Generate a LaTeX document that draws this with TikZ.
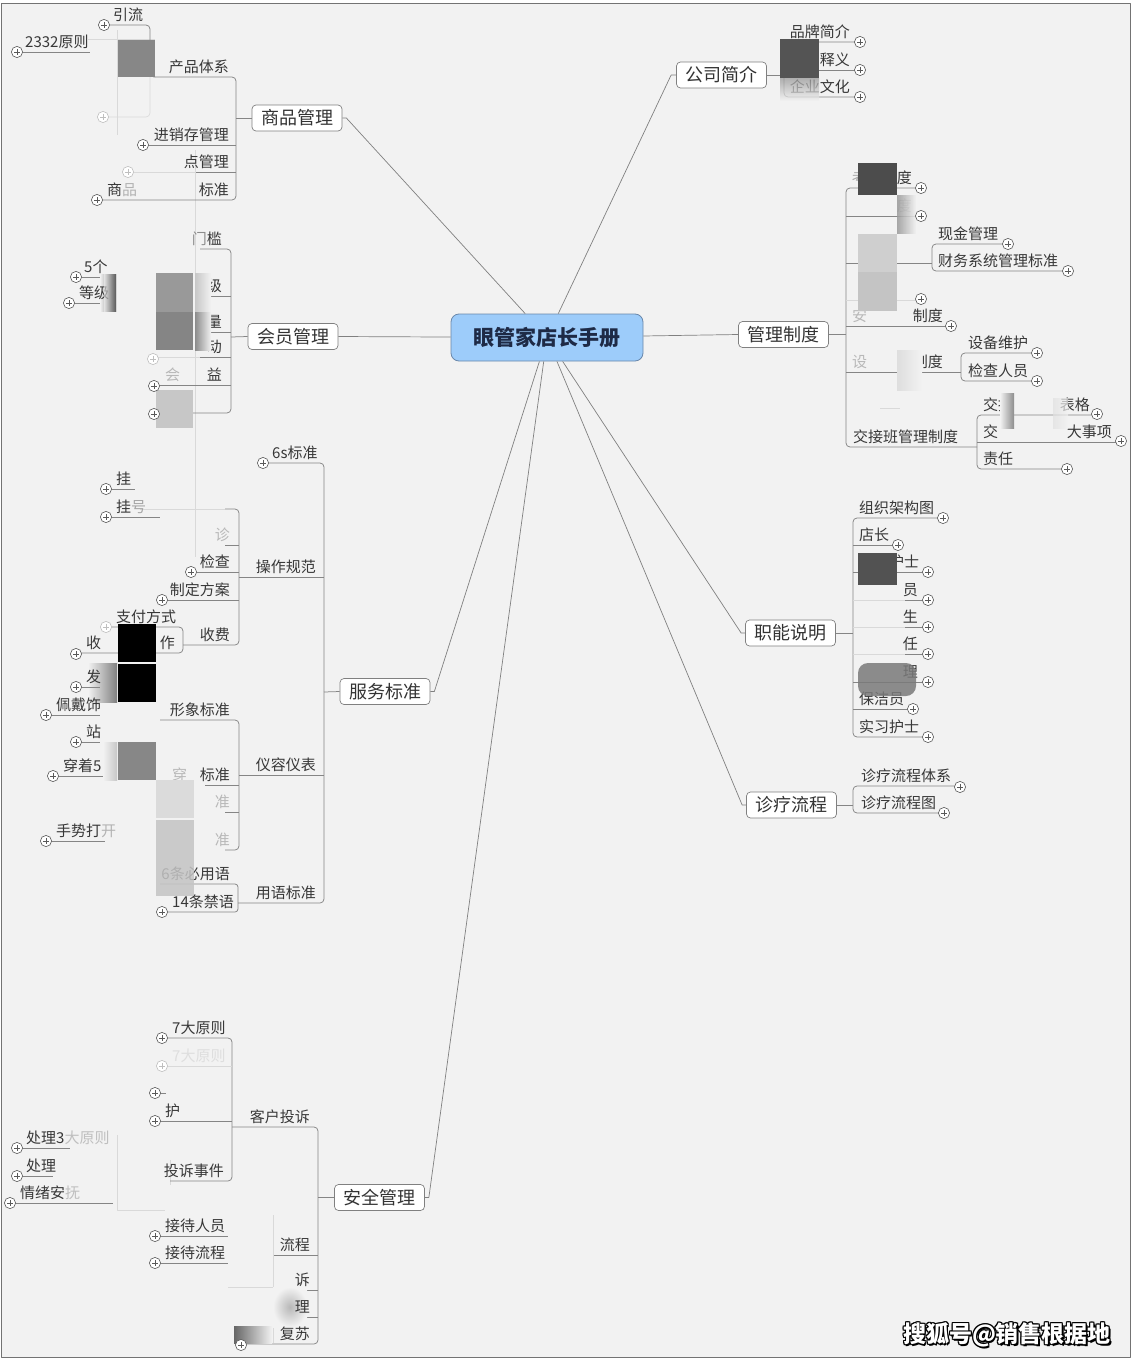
\documentclass[tikz,border=0pt]{standalone}
\usepackage{fontspec}
\setmainfont{Noto Sans CJK SC}
\definecolor{bg}{RGB}{242,242,242}
\definecolor{cfill}{RGB}{157,204,250}
\definecolor{cdraw}{RGB}{105,135,170}
\definecolor{ctext}{RGB}{30,42,70}
\tikzset{
 st/.style={inner sep=0pt, font=\fontsize{15}{18}\selectfont, text=black!78},
 fa/.style={st, text=black!28},
 topic/.style={draw=black!50, fill=white, rounded corners=4pt, minimum width=90pt, minimum height=26pt, inner sep=0pt, font=\fontsize{18}{21}\selectfont, text=black!80, line width=0.7pt},
 central/.style={draw=cdraw, fill=cfill, rounded corners=8pt, minimum width=192pt, minimum height=47pt, inner sep=0pt, font=\fontsize{21}{25}\selectfont\bfseries, text=ctext, line width=0.8pt},
 ln/.style={draw=black!48, line width=0.75pt},
 fl/.style={draw=black!15, line width=0.6pt},
 cl/.style={draw=black!50, line width=0.7pt},
 pc/.style={draw=black!65},
 pf/.style={draw=black!25},
 wmk/.style={inner sep=0pt, font=\fontsize{23}{26}\selectfont\bfseries},
}
\newcommand\txl[5][st]{\node[#1,anchor=base east] (#2) at (#3,#4-4.5) {#5};}
\newcommand\txr[5][st]{\node[#1,anchor=base west] (#2) at (#3,#4-4.5) {#5};}
\newcommand\plusat[2][pc]{\draw[#1,fill=white,line width=0.6pt] (#2) circle[radius=5.6pt]; \draw[#1,line width=0.9pt] (#2) ++(-3.2,0) -- ++(6.4,0) (#2) ++(0,-3.2) -- ++(0,6.4);}
\begin{document}
\begin{tikzpicture}[x=1pt,y=-1pt,line join=round]
\useasboundingbox (0,0) rectangle (1132,1360);
\fill[white] (0,0) rectangle (1132,1360);
\draw[black!55, fill=bg] (1,3.5) rectangle (1130,1357);

% faint whitewash boundaries
\draw[fl] (117,30) -- (117,135); \draw[fl] (88,39) -- (155,39); \draw[fl] (195,150) -- (195,557);
\draw[fl] (117,1135) -- (117,1210) -- (165,1210); \draw[fl] (170,1160) -- (170,1185);
\draw[fl] (273,1215) -- (273,1343); \draw[fl] (228,1287) -- (273,1287);
\draw[fl] (880,408) -- (900,408);

% main nodes
\node[central] (c) at (547,337.5) {眼管家店长手册};
\node[topic] (sp) at (297,118) {商品管理};
\node[topic] (hy) at (293,336.5) {会员管理};
\node[topic] (fw) at (385,691.5) {服务标准};
\node[topic] (aq) at (379.5,1197.5) {安全管理};
\node[topic] (gs) at (721.5,75) {公司简介};
\node[topic] (gl) at (783.5,334.5) {管理制度};
\node[topic] (zn) at (790.5,633) {职能说明};
\node[topic] (zl) at (791.5,805) {诊疗流程};

\draw[cl] (c) -- ([xshift=4pt]sp.east) -- (sp.east);
\draw[cl] (c) -- (hy.east);
\draw[cl] (c) -- ([xshift=4pt]fw.east) -- (fw.east);
\draw[cl] (c) -- ([xshift=4pt]aq.east) -- (aq.east);
\draw[cl] (c) -- ([xshift=-5pt]gs.west) -- (gs.west);
\draw[cl] (c) -- (gl.west);
\draw[cl] (c) -- ([xshift=-4pt]zn.west) -- (zn.west);
\draw[cl] (c) -- ([xshift=-4pt]zl.west) -- (zl.west);

% ===== 商品管理
\draw[ln, rounded corners=4pt] (155,77) -- (236,77) -- (236,200) -- (102,200);
\draw[ln] (236,118) -- (sp.west);
\draw[ln] (148,145) -- (236,145);
\draw[ln] (196,172) -- (236,172);
\draw[fl] (133,172) -- (196,172);
\draw[ln, rounded corners=4pt] (109,25) -- (150,25) -- (150,77) -- (155,77);
\draw[fl, rounded corners=4pt] (150,77) -- (150,117) -- (108,117);
\draw[ln] (22,52) -- (90,52);
\txr{t1}{113}{25}{引流}
\txr{t2}{25}{52}{2332原则}
\txl{t3}{229}{77}{产品体系}
\txl{t4}{229}{145}{进销存管理}
\txl{t5}{229}{172}{点管理}
\txl{t6}{229}{200}{标准}
\txr{t7}{107}{200}{商\textcolor{black!30}{品}}
\fill[black!47] (118,40) rectangle (155,77);

% ===== 会员管理
\draw[ln, rounded corners=4pt] (200,249) -- (231,249) -- (231,413) -- (159,413);
\draw[ln] (231,337) -- (hy.west);
\draw[ln] (195,296) -- (231,296);
\draw[ln] (195,332) -- (231,332);
\draw[ln] (200,357) -- (231,357); \draw[fl] (158,357) -- (200,357);
\draw[ln] (159,385) -- (231,385);
\draw[ln] (81,277) -- (116,277); \draw[ln] (74,303) -- (116,303);
\shade[left color=bg, right color=black!65] (100,274) rectangle (116,311);
\txl{h1}{222}{249}{\textcolor{black!45}{门}槛}
\txl{h2}{222}{296}{级}
\txl{h3}{222}{332}{量}
\txl{h4}{222}{357}{动}
\txl{h5}{222}{385}{益}
\txr[fa]{h5b}{165}{385}{会}
\txr{h6}{84}{277}{5个}
\txr{h7}{79}{303}{等级}
\fill[black!40] (156,273) rectangle (193,312);
\fill[black!48] (156,312) rectangle (193,350);
\shade[left color=black!22, right color=bg] (195,273) rectangle (211,312);
\shade[left color=black!45, right color=bg] (195,312) rectangle (211,350);
\fill[black!22] (156,390) rectangle (193,428);
\shade[left color=bg, right color=black!65, opacity=0.6] (104,274) rectangle (116,311);

% ===== 服务标准
\draw[ln, rounded corners=4pt] (268,463) -- (324,463) -- (324,903) -- (238,903);
\draw[ln] (324,692) -- (fw.west);
\draw[ln] (239,577) -- (324,577);
\draw[ln] (239,775) -- (324,775);
\txr{f1}{272}{463}{6s标准}
\txl{f2}{316}{577}{操作规范}
\txl{f3}{316}{775}{仪容仪表}
\txl{f4}{316}{903}{用语标准}
% 操作规范
\draw[ln, rounded corners=4pt] (225,509) -- (239,509) -- (239,645) -- (183,645);
\draw[fl] (140,509) -- (225,509);
\draw[ln] (225,545) -- (239,545);
\draw[ln] (196,572) -- (239,572);
\draw[ln] (167,600) -- (239,600);
\txl[fa]{f5}{230}{545}{诊}
\txl{f6}{230}{572}{检查}
\txl{f7}{230}{600}{制定方案}
\txl{f8}{230}{645}{收费}
\draw[ln] (111,489) -- (135,489); \draw[ln] (111,517) -- (160,517);
\txr{f9}{116}{489}{挂}
\txr{f10}{116}{517}{挂\textcolor{black!35}{号}}
% 收费
\draw[ln, rounded corners=4pt] (111,627) -- (183,627) -- (183,653) -- (81,653);
\shade[left color=bg, right color=black!50] (88,663) rectangle (117,702);
\txr{f11}{116}{627}{支付方式}
\txr{f12}{86}{653}{收}
\txl{f13}{175}{653}{作}
\draw[ln] (81,687) -- (100,687);
\txr{f14}{86}{687}{发}
\fill[black] (118,624) rectangle (156,662);
\fill[black] (118,664) rectangle (156,702);
% 仪容仪表
\draw[ln, rounded corners=4pt] (160,720) -- (239,720) -- (239,850) -- (225,850);
\draw[ln] (205,785) -- (239,785);
\draw[ln] (225,812) -- (239,812);
\shade[left color=bg, right color=black!22] (103,742) rectangle (117,780);
\txl{f15}{230}{720}{形象标准}
\txl{f16}{230}{785}{标准}
\txr[fa]{f17}{172}{785}{穿}
\txl[fa]{f18}{230}{812}{准}
\txl[fa]{f19}{230}{850}{准}
\draw[ln] (51,715) -- (100,715); \txr{f20}{56}{715}{佩戴饰}
\draw[ln] (81,742) -- (100,742); \txr{f21}{86}{742}{站}
\draw[ln] (58,776) -- (103,776); \txr{f22}{63}{776}{穿着5}
\draw[ln] (51,841) -- (105,841); \txr{f23}{56}{841}{手势打\textcolor{black!30}{开}}
\fill[black!47] (118,742) rectangle (156,780);
\fill[black!14] (156,780) rectangle (194,818);
% 用语标准
\draw[ln, rounded corners=3pt] (160,884) -- (238,884) -- (238,912) -- (167,912);
\txl{f24}{230}{884}{6条必用语}
\txr{f25}{172}{912}{14条禁语}
\fill[black!23, fill opacity=0.85] (156,820) rectangle (194,896);

% ===== 安全管理
\draw[ln, rounded corners=4pt] (232,1127) -- (318,1127) -- (318,1344) -- (246,1344);
\draw[ln] (318,1197.5) -- (aq.west);
\draw[ln] (274,1255) -- (318,1255);
\draw[ln] (273,1290) -- (318,1290);
\draw[ln] (273,1317) -- (318,1317);
\shade[inner color=black!28, outer color=bg] (273,1287) rectangle (307,1327);
\shade[left color=black!60, right color=bg] (234,1326) rectangle (272,1343);
\txl{a1}{310}{1127}{客户投诉}
\txl{a2}{310}{1255}{流程}
\txl{a3}{310}{1290}{诉}
\txl{a4}{310}{1317}{理}
\txl{a5}{310}{1344}{复苏}
\draw[ln, rounded corners=4pt] (167,1038) -- (232,1038) -- (232,1181) -- (170,1181);
\draw[ln] (160,1121) -- (232,1121);
\draw[fl] (167,1066) -- (232,1066);
\draw[ln] (160,1093) -- (166,1093);
\txr{a6}{172}{1038}{7大原则}
\txr[st,text=black!13]{a7}{172}{1066}{7大原则}
\txr{a8}{165}{1121}{护}
\txl{a9}{224}{1181}{投诉事件}
\draw[ln] (22,1148) -- (70,1148); \txr{a10}{26}{1148}{处理3\textcolor{black!25}{大原则}}
\draw[ln] (22,1176) -- (53,1176); \txr{a11}{26}{1176}{处理}
\draw[ln] (15,1203) -- (113,1203); \txr{a12}{20}{1203}{情绪安\textcolor{black!25}{抚}}
\draw[ln] (160,1236) -- (228,1236); \txr{a13}{165}{1236}{接待人员}
\draw[ln] (160,1263) -- (228,1263); \txr{a14}{165}{1263}{接待流程}

% ===== 公司简介
\draw[ln, rounded corners=4pt] (855,42) -- (784,42) -- (784,97) -- (855,97);
\draw[ln] (784,70) -- (855,70);
\draw[ln] (gs.east) -- (784,75);
\txl{g1}{850}{42}{品牌简介}
\txl{g2}{850}{70}{释义}
\txl{g3}{850}{97}{企业文化}
\fill[black!67] (780,39) rectangle (819,78);
\shade[top color=black!40, bottom color=bg, opacity=0.75] (780,78) rectangle (819,101);

% ===== 管理制度
\draw[ln, rounded corners=4pt] (916,188) -- (846,188) -- (846,447) -- (977,447);
\draw[ln] (gl.east) -- (846,334.5);
\draw[ln] (846,216) -- (916,216);
\draw[ln] (846,263) -- (932,263);
\draw[fl] (846,300) -- (916,300);
\draw[ln] (846,326) -- (946,326);
\draw[ln] (846,372) -- (961,372);
\draw[ln, rounded corners=4pt] (1003,244) -- (932,244) -- (932,271) -- (1063,271);
\draw[ln, rounded corners=4pt] (1032,353) -- (961,353) -- (961,381) -- (1032,381);
\draw[ln, rounded corners=4pt] (1092,415) -- (977,415) -- (977,469) -- (1062,469);
\draw[ln] (977,442) -- (1116,442);
\txl{m1}{912}{188}{\textcolor{black!35}{考}勤制度}
\txl[fa]{m2}{912}{216}{度}
\txl{m3}{943}{326}{制度}
\txr[fa]{m3b}{852}{326}{安}
\txl{m4}{943}{372}{制度}
\txr[fa]{m4b}{852}{372}{设}
\txr{m5}{853}{447}{交接班管理制度}
\txr{m6}{938}{244}{现金管理}
\txr{m7}{938}{271}{财务系统管理标准}
\txr{m8}{968}{353}{设备维护}
\txr{m9}{968}{381}{检查人员}
\txr{m10}{983}{415}{交接}
\txl{m11}{1090}{415}{表格}
\txr{m12}{983}{442}{交}
\txl{m13}{1112}{442}{大事项}
\txr{m14}{983}{469}{责任}
\fill[black!70] (858,163) rectangle (897,195);
\shade[left color=black!40, right color=bg, opacity=0.85] (897,195) rectangle (916,233);
\fill[black!19] (858,234) rectangle (897,272);
\fill[black!23] (858,272) rectangle (897,311);
\shade[left color=black!13, right color=bg] (897,350) rectangle (922,390);
\shade[left color=bg, right color=black!45] (1000,393) rectangle (1014,428);
\shade[left color=black!12, right color=bg, opacity=0.7] (1053,398) rectangle (1068,428);

% ===== 职能说明
\draw[ln, rounded corners=4pt] (938,518) -- (853,518) -- (853,737) -- (923,737);
\draw[ln] (zn.east) -- (853,633);
\draw[ln] (853,545) -- (893,545);
\draw[ln] (853,572) -- (923,572);
\foreach \yy in {600,627,654} {\draw[fl] (853,\yy) -- (905,\yy); \draw[ln] (905,\yy) -- (923,\yy);}
\draw[ln] (853,682) -- (923,682);
\draw[ln] (853,709) -- (908,709);
\txr{z1}{859}{518}{组织架构图}
\txr{z2}{859}{545}{店长}
\txr{z3}{859}{572}{前台护士}
\txl{z4}{918}{600}{员}
\txl{z5}{918}{627}{生}
\txl{z6}{918}{654}{任}
\txl{z7}{918}{682}{理}
\txr{z8}{859}{709}{保洁员}
\txr{z9}{859}{737}{实习护士}
\fill[black!68] (858,553) rectangle (897,585);
\fill[black!52, rounded corners=10pt, fill opacity=0.85] (858,663) rectangle (916,696);

% ===== 诊疗流程
\draw[ln, rounded corners=4pt] (955,786) -- (853,786) -- (853,813) -- (940,813);
\draw[ln] (zl.east) -- (853,805);
\txr{d1}{861}{786}{诊疗流程体系}
\txr{d2}{861}{813}{诊疗流程图}

% ===== plus marks
\plusat{104,25} \plusat{17,52} \plusat[pf]{103,117} \plusat{143,145} \plusat[pf]{128,172} \plusat{97,200}
\plusat{76,277} \plusat{69,303} \plusat[pf]{153,359} \plusat{154,386} \plusat{154,414}
\plusat{263,463} \plusat{106,489} \plusat{106,517} \plusat{191,572} \plusat{162,600}
\plusat[pf]{106,627} \plusat{76,654} \plusat{76,687} \plusat{46,715} \plusat{76,742} \plusat{53,776} \plusat{46,841} \plusat{162,912}
\plusat{162,1038} \plusat[pf]{162,1066} \plusat{155,1093} \plusat{155,1121} \plusat{17,1148} \plusat{17,1176} \plusat{10,1203}
\plusat{155,1236} \plusat{155,1263} \plusat{241,1345}
\plusat{860,42} \plusat{860,70} \plusat{860,97}
\plusat{921,188} \plusat{921,216} \plusat{1008,244} \plusat{1068,271} \plusat{921,299} \plusat{951,326}
\plusat{1037,353} \plusat{1037,381} \plusat{1097,414} \plusat{1121,441} \plusat{1067,469}
\plusat{943,518} \plusat{898,545} \plusat{928,572} \plusat{928,600} \plusat{928,627} \plusat{928,654} \plusat{928,682} \plusat{913,709} \plusat{928,737}
\plusat{960,787} \plusat{944,813}

% ===== watermark
\foreach \dx/\dy in {-1/0,1/0,0/-1,0/1,-1/-1,1/1,-1/1,1/-1,1.5/1.5} \node[wmk, text=black] at (1007+\dx,1335+\dy) {搜狐号@销售根据地};
\node[wmk, text=white] (wm) at (1007,1335) {搜狐号@销售根据地};
\end{tikzpicture}
\end{document}
